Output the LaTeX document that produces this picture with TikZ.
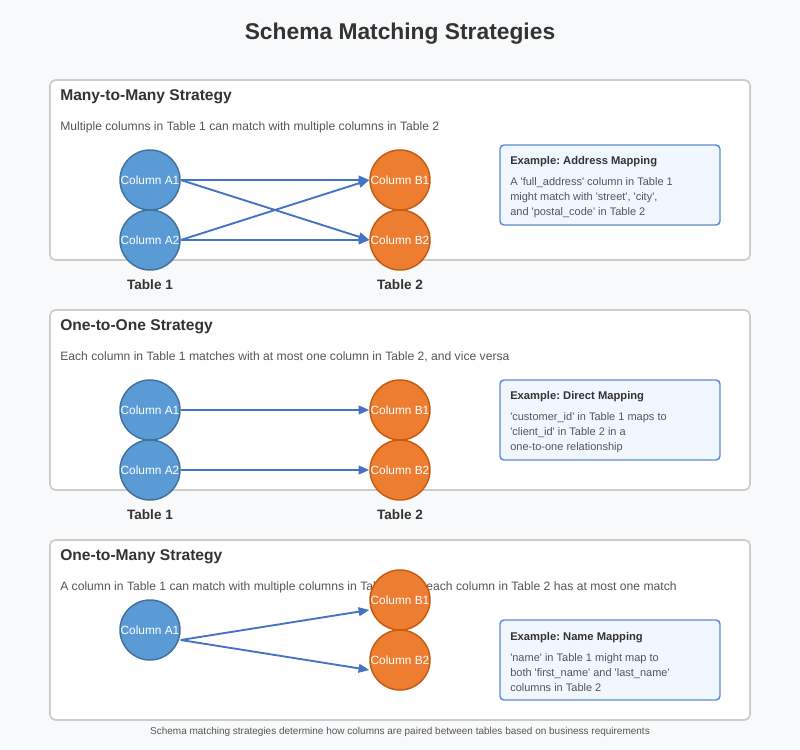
\documentclass[tikz,border=0pt]{standalone}
\usepackage{fontspec}
\setmainfont{Liberation Sans}
\usetikzlibrary{arrows.meta,calc}
\frenchspacing
\definecolor{bgc}{HTML}{F8F9FA}
\definecolor{panelborder}{HTML}{CCCCCC}
\definecolor{titlec}{HTML}{333333}
\definecolor{descc}{HTML}{555555}
\definecolor{bluefill}{HTML}{5B9BD5}
\definecolor{bluedraw}{HTML}{41719C}
\definecolor{orangefill}{HTML}{ED7D31}
\definecolor{orangedraw}{HTML}{C55A11}
\definecolor{arrowc}{HTML}{4472C4}
\definecolor{exfill}{HTML}{F0F7FF}
\definecolor{exdraw}{HTML}{5B8BD5}
\newcommand{\q}{\textquotesingle}
\tikzset{
  panel/.style={draw=panelborder, fill=white, line width=1.2pt, rounded corners=4pt},
  ptitle/.style={anchor=mid west, inner sep=0pt, text=titlec, font=\fontsize{11.7}{14}\selectfont\bfseries},
  pdesc/.style={anchor=mid west, inner sep=0pt, text=descc, font=\fontsize{9.1}{11}\selectfont},
  colA/.style={circle, draw=bluedraw, fill=bluefill, line width=1.1pt, minimum size=45pt, inner sep=0pt, text=white, font=\fontsize{8.9}{10}\selectfont},
  colB/.style={circle, draw=orangedraw, fill=orangefill, line width=1.1pt, minimum size=45pt, inner sep=0pt, text=white, font=\fontsize{8.9}{10}\selectfont},
  tlabel/.style={inner sep=0pt, text=titlec, font=\fontsize{10.2}{12}\selectfont\bfseries},
  link/.style={draw=arrowc, line width=1.4pt, -{Triangle[length=8pt,width=6.5pt]}},
  exbox/.style={draw=exdraw, fill=exfill, line width=1.1pt, rounded corners=3pt},
  extitle/.style={anchor=mid west, inner sep=0pt, text=titlec, font=\fontsize{8.4}{10}\selectfont\bfseries},
  exline/.style={anchor=mid west, inner sep=0pt, text=descc, font=\fontsize{8.25}{9}\selectfont},
}
\begin{document}
\begin{tikzpicture}[x=0.75pt,y=-0.75pt]
\useasboundingbox (0,0) rectangle (800,750);
\fill[bgc] (0,0) rectangle (800,750);
\node[text=titlec, font=\fontsize{17.1}{20}\selectfont\bfseries] (title) at (400,34) {Schema Matching Strategies};

% ---------- Panel 1 ----------
\draw[panel] (50,80) rectangle (750,260);
\node[ptitle] (p1t) at (60,97) {Many-to-Many Strategy};
\node[pdesc] (p1d) at (60,127) {Multiple columns in Table 1 can match with multiple columns in Table 2};
\node[colA] (p1a1) at (150,180) {Column A1};
\node[colA] (p1a2) at (150,240) {Column A2};
\node[colB] (p1b1) at (400,180) {Column B1};
\node[colB] (p1b2) at (400,240) {Column B2};
\draw[link] (p1a1.east) -- (p1b1.west);
\draw[link] (p1a1.east) -- (p1b2.west);
\draw[link] (p1a2.east) -- (p1b1.west);
\draw[link] (p1a2.east) -- (p1b2.west);
\node[tlabel] (p1t1) at (150,285) {Table 1};
\node[tlabel] (p1t2) at (400,285) {Table 2};
\draw[exbox] (500,145) rectangle (720,225);
\node[extitle] (p1et) at (510,161) {Example: Address Mapping};
\node[exline] (p1e1) at (510,182) {A \q full\_address\q{} column in Table 1};
\node[exline] (p1e2) at (510,197) {might match with \q street\q, \q city\q,};
\node[exline] (p1e3) at (510,212) {and \q postal\_code\q{} in Table 2};

% ---------- Panel 2 ----------
\draw[panel] (50,310) rectangle (750,490);
\node[ptitle] (p2t) at (60,327) {One-to-One Strategy};
\node[pdesc] (p2d) at (60,357) {Each column in Table 1 matches with at most one column in Table 2, and vice versa};
\node[colA] (p2a1) at (150,410) {Column A1};
\node[colA] (p2a2) at (150,470) {Column A2};
\node[colB] (p2b1) at (400,410) {Column B1};
\node[colB] (p2b2) at (400,470) {Column B2};
\draw[link] (p2a1.east) -- (p2b1.west);
\draw[link] (p2a2.east) -- (p2b2.west);
\node[tlabel] (p2t1) at (150,515) {Table 1};
\node[tlabel] (p2t2) at (400,515) {Table 2};
\draw[exbox] (500,380) rectangle (720,460);
\node[extitle] (p2et) at (510,396) {Example: Direct Mapping};
\node[exline] (p2e1) at (510,417) {\q customer\_id\q{} in Table 1 maps to};
\node[exline] (p2e2) at (510,432) {\q client\_id\q{} in Table 2 in a};
\node[exline] (p2e3) at (510,447) {one-to-one relationship};

% ---------- Panel 3 ----------
\draw[panel] (50,540) rectangle (750,720);
\node[ptitle] (p3t) at (60,557) {One-to-Many Strategy};
\node[pdesc] (p3d) at (60,587) {A column in Table 1 can match with multiple columns in Table 2, but each column in Table 2 has at most one match};
\node[colA] (p3a1) at (150,630) {Column A1};
\node[colB] (p3b1) at (400,600) {Column B1};
\node[colB] (p3b2) at (400,660) {Column B2};
\draw[link] ($(p3a1.east)+(0,10)$) -- ($(p3b1.west)+(0,10)$);
\draw[link] ($(p3a1.east)+(0,10)$) -- ($(p3b2.west)+(0,10)$);
\draw[exbox] (500,620) rectangle (720,700);
\node[extitle] (p3et) at (510,637) {Example: Name Mapping};
\node[exline] (p3e1) at (510,658) {\q name\q{} in Table 1 might map to};
\node[exline] (p3e2) at (510,673) {both \q first\_name\q{} and \q last\_name\q};
\node[exline] (p3e3) at (510,688) {columns in Table 2};

\node[text=descc, font=\fontsize{7.5}{9}\selectfont] (foot) at (400,732) {Schema matching strategies determine how columns are paired between tables based on business requirements};
\end{tikzpicture}
\end{document}
